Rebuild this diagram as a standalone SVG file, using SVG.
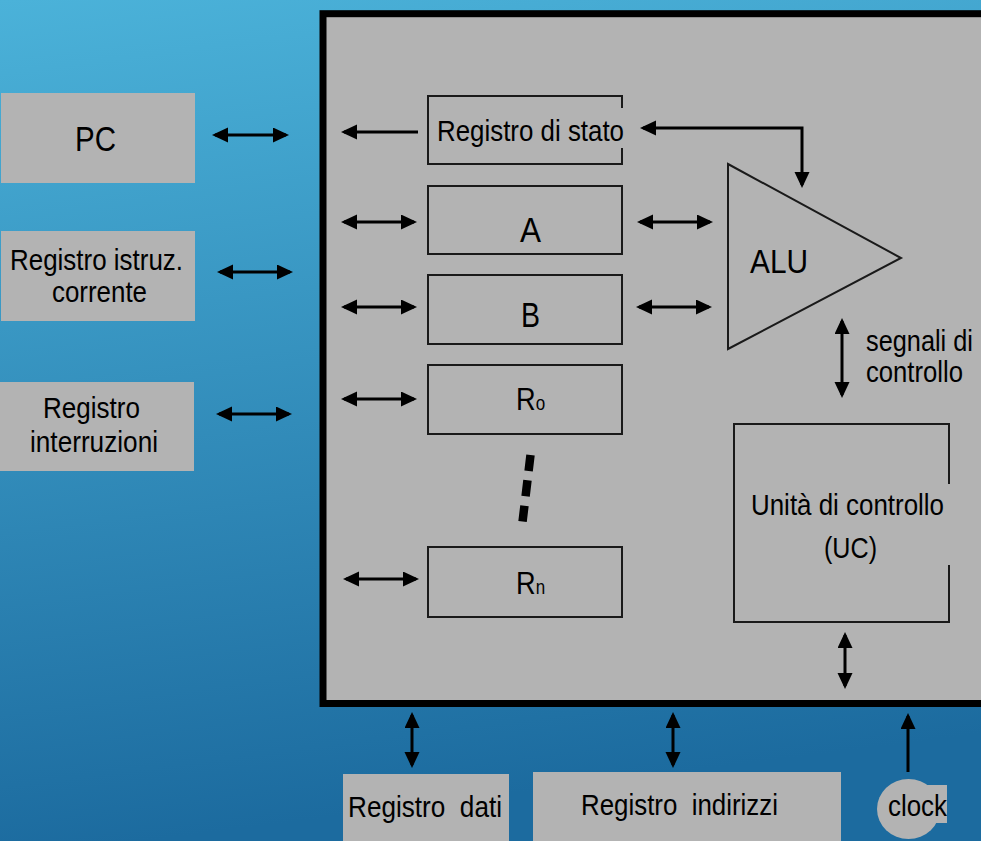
<svg xmlns="http://www.w3.org/2000/svg" width="981" height="841" viewBox="0 0 981 841">
  <defs>
    <linearGradient id="bg" x1="0" y1="0" x2="0.15" y2="1">
      <stop offset="0" stop-color="#4bb2d9"/>
      <stop offset="1" stop-color="#1c6b9f"/>
    </linearGradient>
    <marker id="ah" markerUnits="userSpaceOnUse" markerWidth="17" markerHeight="16" refX="13" refY="7.5" orient="auto-start-reverse">
      <path d="M0,0 L16,7.5 L0,15 z" fill="#000"/>
    </marker>
  </defs>
  <style>
    text { font-family: "Liberation Sans", Arial, sans-serif; fill: #000; }
    .t30 { font-size: 30px; }
    .t35 { font-size: 35px; }
    .gray { fill: #b3b3b3; }
    .box { fill: none; stroke: #1a1a1a; stroke-width: 2; }
    .arr { fill: none; stroke: #000; stroke-width: 3; }
    .dbl { marker-start: url(#ah); marker-end: url(#ah); }
    .one { marker-end: url(#ah); }
  </style>

  <rect x="0" y="0" width="981" height="841" fill="url(#bg)"/>

  <g id="cpu">
    <rect x="323" y="13.7" width="700" height="689.8" fill="#b3b3b3" stroke="#000" stroke-width="7"/>
  </g>

  <g id="pc">
    <rect class="gray" x="1" y="93" width="194" height="90"/>
    <text class="t35" x="75" y="151" textLength="41" lengthAdjust="spacingAndGlyphs">PC</text>
  </g>
  <g id="registro-istruz">
    <rect class="gray" x="1" y="231" width="194" height="90"/>
    <text class="t30" x="10" y="270" textLength="173" lengthAdjust="spacingAndGlyphs">Registro istruz.</text>
    <text class="t30" x="52" y="302" textLength="95" lengthAdjust="spacingAndGlyphs">corrente</text>
  </g>
  <g id="registro-interruzioni">
    <rect class="gray" x="0" y="382" width="194" height="89"/>
    <text class="t30" x="43" y="418" textLength="97" lengthAdjust="spacingAndGlyphs">Registro</text>
    <text class="t30" x="30" y="452" textLength="128" lengthAdjust="spacingAndGlyphs">interruzioni</text>
  </g>

  <g id="registro-stato">
    <path class="box" d="M622,108 V96 H428 V164 H622 V148"/>
    <text class="t30" x="437" y="141" textLength="187" lengthAdjust="spacingAndGlyphs">Registro di stato</text>
  </g>
  <g id="reg-a">
    <rect class="box" x="428" y="186" width="194" height="68"/>
    <text class="t35" x="520" y="242" textLength="21" lengthAdjust="spacingAndGlyphs">A</text>
  </g>
  <g id="reg-b">
    <rect class="box" x="428" y="275" width="194" height="69"/>
    <text class="t35" x="521" y="327" textLength="19" lengthAdjust="spacingAndGlyphs">B</text>
  </g>
  <g id="reg-r0">
    <rect class="box" x="428" y="365" width="194" height="69"/>
    <text font-size="32" transform="translate(516,410) scale(0.85,1)">R<tspan font-size="20">o</tspan></text>
  </g>
  <g id="dots">
    <line x1="530.5" y1="455" x2="522.5" y2="522" stroke="#000" stroke-width="8.5" stroke-dasharray="16 9.5"/>
  </g>
  <g id="reg-rn">
    <rect class="box" x="428" y="547" width="194" height="70"/>
    <text font-size="32" transform="translate(516,594) scale(0.85,1)">R<tspan font-size="20">n</tspan></text>
  </g>

  <g id="alu">
    <polygon points="728,164 901,258 728,349" fill="none" stroke="#1a1a1a" stroke-width="2"/>
    <text x="750" y="273" font-size="33" textLength="58" lengthAdjust="spacingAndGlyphs">ALU</text>
  </g>
  <g id="segnali">
    <text class="t30" x="866" y="351" textLength="107" lengthAdjust="spacingAndGlyphs">segnali di</text>
    <text class="t30" x="866" y="382" textLength="97" lengthAdjust="spacingAndGlyphs">controllo</text>
  </g>
  <g id="uc">
    <path class="box" d="M949,484 V424 H734 V622 H949 V565"/>
    <text class="t30" x="751" y="515" textLength="193" lengthAdjust="spacingAndGlyphs">Unità di controllo</text>
    <text class="t30" x="824" y="558" textLength="53" lengthAdjust="spacingAndGlyphs">(UC)</text>
  </g>

  <g id="registro-dati">
    <rect class="gray" x="343" y="774" width="166" height="70"/>
    <text class="t30" x="348" y="817" xml:space="preserve" textLength="154" lengthAdjust="spacingAndGlyphs">Registro  dati</text>
  </g>
  <g id="registro-indirizzi">
    <rect class="gray" x="533" y="772" width="308" height="72"/>
    <text class="t30" x="581" y="815" xml:space="preserve" textLength="197" lengthAdjust="spacingAndGlyphs">Registro  indirizzi</text>
  </g>
  <g id="clock">
    <ellipse class="gray" cx="908.5" cy="809" rx="31.5" ry="30"/>
    <rect class="gray" x="890" y="785" width="57" height="38"/>
    <text class="t30" x="888" y="816" textLength="59" lengthAdjust="spacingAndGlyphs">clock</text>
  </g>

  <g id="connectors">
    <line class="arr dbl" x1="215" y1="135" x2="286" y2="135"/>
    <line class="arr dbl" x1="220" y1="272" x2="290" y2="272"/>
    <line class="arr dbl" x1="219" y1="414" x2="289" y2="414"/>
    <line class="arr one" x1="418" y1="132" x2="344" y2="132"/>
    <line class="arr dbl" x1="344" y1="222" x2="414" y2="222"/>
    <line class="arr dbl" x1="344" y1="307" x2="414" y2="307"/>
    <line class="arr dbl" x1="344" y1="399" x2="414" y2="399"/>
    <line class="arr dbl" x1="346" y1="579" x2="416" y2="579"/>
    <line class="arr dbl" x1="640" y1="222" x2="710" y2="222"/>
    <line class="arr dbl" x1="639" y1="307" x2="709" y2="307"/>
    <path class="arr dbl" d="M643,128 H802 V185"/>
    <line class="arr dbl" x1="842" y1="321" x2="842" y2="395"/>
    <line class="arr dbl" x1="845" y1="635" x2="845" y2="686"/>
    <line class="arr dbl" x1="412" y1="715" x2="412" y2="765"/>
    <line class="arr dbl" x1="673" y1="715" x2="673" y2="765"/>
    <line class="arr one" x1="908" y1="772" x2="908" y2="716"/>
  </g>
</svg>
